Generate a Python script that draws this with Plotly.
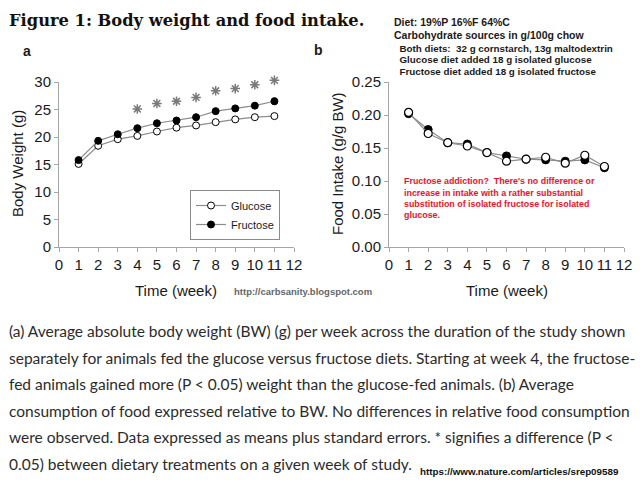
import plotly.graph_objects as go

W, H = 640, 493

weeks = [1, 2, 3, 4, 5, 6, 7, 8, 9, 10, 11]
bw_glucose = [15.1, 18.4, 19.6, 20.2, 21.0, 21.7, 22.1, 22.7, 23.2, 23.6, 23.8]
bw_fructose = [15.8, 19.3, 20.5, 21.6, 22.5, 23.0, 23.6, 24.7, 25.2, 25.7, 26.5]
bw_glucose_se = [0.3, 0.3, 0.3, 0.3, 0.3, 0.3, 0.3, 0.3, 0.3, 0.3, 0.3]
bw_fructose_se = [0.4, 0.4, 0.4, 0.4, 0.4, 0.4, 0.4, 0.5, 0.5, 0.5, 0.6]
star_weeks = [4, 5, 6, 7, 8, 9, 10, 11]
star_y = [25.1, 26.1, 26.5, 27.2, 28.4, 28.8, 29.5, 30.3]

fi_glucose = [0.204, 0.172, 0.158, 0.153, 0.143, 0.130, 0.133, 0.136, 0.127, 0.139, 0.122]
fi_fructose = [0.202, 0.178, 0.158, 0.156, 0.143, 0.138, 0.133, 0.132, 0.130, 0.132, 0.120]
fi_se = [0.004, 0.003, 0.002, 0.002, 0.002, 0.002, 0.002, 0.002, 0.002, 0.002, 0.002]

x_ticks = list(range(0, 13))
bw_ticks = [0, 5, 10, 15, 20, 25, 30]
fi_ticks = [0.0, 0.05, 0.10, 0.15, 0.20, 0.25]
fi_ticklabels = ["0.00", "0.05", "0.10", "0.15", "0.20", "0.25"]

title_text = "Figure 1: Body weight and food intake."
diet_lines = [
    "Diet: 19%P 16%F 64%C",
    "Carbohydrate sources in g/100g chow",
    "  Both diets:  32 g cornstarch, 13g maltodextrin",
    "  Glucose diet added 18 g isolated glucose",
    "  Fructose diet added 18 g isolated fructose",
]
red_lines = [
    "Fructose addiction?  There's no difference or",
    "increase in intake with a rather substantial",
    "substitution of isolated fructose for isolated",
    "glucose.",
]
caption_lines = [
    "(a) Average absolute body weight (BW) (g) per week across the duration of the study shown",
    "separately for animals fed the glucose versus fructose diets. Starting at week 4, the fructose-",
    "fed animals gained more (P < 0.05) weight than the glucose-fed animals. (b) Average",
    "consumption of food expressed relative to BW. No differences in relative food consumption",
    "were observed. Data expressed as means plus standard errors. * signifies a difference (P <",
    "0.05) between dietary treatments on a given week of study.",
]


def px(x, y):
    return x / W, 1 - y / H


LINE = "#8c8c8c"
AX = "#a6a6a6"
STAR = "#7a7a7a"

fig = go.Figure()

# Panel a
fig.add_trace(go.Scatter(
    x=weeks, y=bw_glucose, name="Glucose", mode="lines+markers",
    line=dict(color=LINE, width=1.2),
    marker=dict(symbol="circle", size=7, color="white", line=dict(color="black", width=1)),
    error_y=dict(type="data", array=bw_glucose_se, color=LINE, thickness=1, width=2),
    xaxis="x", yaxis="y"))
fig.add_trace(go.Scatter(
    x=weeks, y=bw_fructose, name="Fructose", mode="lines+markers",
    line=dict(color=LINE, width=1.2),
    marker=dict(symbol="circle", size=7, color="black", line=dict(color="black", width=1)),
    error_y=dict(type="data", array=bw_fructose_se, color=LINE, thickness=1, width=2),
    xaxis="x", yaxis="y"))
# significance stars on an invisible axis with identical scale but extra headroom
fig.add_trace(go.Scatter(
    x=star_weeks, y=star_y, mode="markers", showlegend=False,
    marker=dict(symbol="asterisk-open", size=8, color=STAR, line=dict(color=STAR, width=1.5)),
    xaxis="x", yaxis="y3"))

# Panel b
fig.add_trace(go.Scatter(
    x=weeks, y=fi_fructose, name="Fructose", mode="lines+markers", showlegend=False,
    line=dict(color=LINE, width=1.2),
    marker=dict(symbol="circle", size=8, color="black", line=dict(color="black", width=1)),
    error_y=dict(type="data", array=fi_se, color=LINE, thickness=1, width=2),
    xaxis="x2", yaxis="y2"))
fig.add_trace(go.Scatter(
    x=weeks, y=fi_glucose, name="Glucose", mode="lines+markers", showlegend=False,
    line=dict(color=LINE, width=1.2),
    marker=dict(symbol="circle", size=8, color="white", line=dict(color="black", width=1.2)),
    error_y=dict(type="data", array=fi_se, color=LINE, thickness=1, width=2),
    xaxis="x2", yaxis="y2"))

tickfont = dict(family="Liberation Sans, Arial", size=15, color="#1a1a1a")
common_axis = dict(showgrid=False, zeroline=False, showline=True, linecolor=AX, linewidth=1,
                   ticks="outside", ticklen=4, tickcolor=AX, tickfont=tickfont, tickangle=0,
                   automargin=False)

y0_px, y30_px = 247, 82
ppu = (y0_px - y30_px) / 30.0
ydom = [(H - y0_px) / H, (H - y30_px) / H]
y3_top = 32
ydom3 = [(H - y0_px) / H, (H - (y0_px - ppu * y3_top)) / H]

fig.update_layout(
    width=W, height=H, margin=dict(l=0, r=0, t=0, b=0, pad=0, autoexpand=False),
    paper_bgcolor="white", plot_bgcolor="rgba(0,0,0,0)",
    xaxis=dict(domain=[59 / W, 294 / W], range=[0, 12], tickvals=x_ticks, anchor="y", **common_axis),
    yaxis=dict(domain=ydom, range=[0, 30], tickvals=bw_ticks, anchor="x", **common_axis),
    yaxis3=dict(domain=ydom3, range=[0, y3_top], anchor="x", visible=False, showgrid=False,
                zeroline=False, automargin=False),
    xaxis2=dict(domain=[389 / W, 624 / W], range=[0, 12], tickvals=x_ticks, anchor="y2", **common_axis),
    yaxis2=dict(domain=ydom, range=[0, 0.25], tickvals=fi_ticks, ticktext=fi_ticklabels,
                anchor="x2", **common_axis),
    showlegend=True,
    legend=dict(x=190 / W, y=1 - 190 / H, xanchor="left", yanchor="top",
                bordercolor="#8a8a8a", borderwidth=1, bgcolor="white",
                font=dict(family="Liberation Sans, Arial", size=11, color="#1a1a1a"),
                tracegroupgap=0, itemwidth=30),
)

ann = []


def add_text(text, x, y, size, color="#1a1a1a", family="Liberation Sans, Arial",
             xanchor="left", yanchor="middle", angle=0):
    ax, ay = px(x, y)
    ann.append(dict(text=text, x=ax, y=ay, xref="paper", yref="paper", showarrow=False,
                    xanchor=xanchor, yanchor=yanchor, textangle=angle,
                    font=dict(family=family, size=size, color=color)))


add_text("<b>" + title_text + "</b>", 7, 20, 16.3, color="#111", family="DejaVu Serif")
add_text("<b>a</b>", 21, 51, 14)
add_text("<b>b</b>", 312, 50, 14)

diet_y = [22, 35, 48, 60, 71]
for i, line in enumerate(diet_lines):
    add_text("<b>" + line.replace("  ", "&nbsp; ") + "</b>", 392, diet_y[i], 10.5 if i < 2 else 9.8)

red_y = [181.5, 192.5, 203.5, 214.5]
for i, line in enumerate(red_lines):
    add_text("<b>" + line.replace("  ", "&nbsp; ") + "</b>", 402, red_y[i], 8.9, color="#e8142a")

add_text("Body Weight (g)", 17, 164, 15, xanchor="center", angle=-90)
add_text("Food Intake (g/g BW)", 337, 164, 15, xanchor="center", angle=-90)
add_text("Time (week)", 176, 290, 15, xanchor="center")
add_text("Time (week)", 507, 290, 15, xanchor="center")
add_text("<b>http://carbsanity.blogspot.com</b>", 232, 291, 9.5, color="#666")

cap_y = [331, 357.5, 384, 410.5, 437, 464]
for i, line in enumerate(caption_lines):
    add_text(line.replace("<", "&lt;"), 7, cap_y[i], 15.5, color="#2b2b2b", family="Lato")

add_text("<b>https://www.nature.com/articles/srep09589</b>", 418, 471, 9.8, color="#111")

fig.update_layout(annotations=ann)
fig.write_html("out.html", config={"displayModeBar": False, "staticPlot": True},
               post_script="document.body.style.margin='0';document.body.style.overflow='hidden';")
